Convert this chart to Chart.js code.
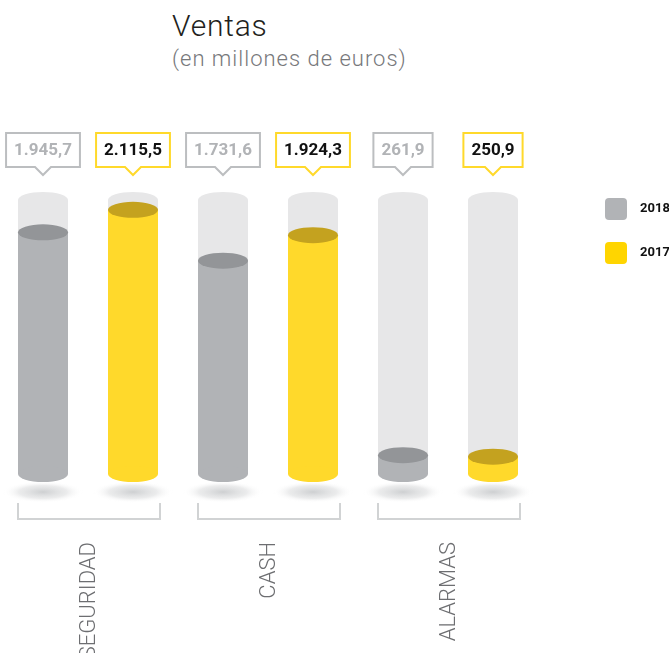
<!DOCTYPE html>
<html>
<head>
<meta charset="utf-8">
<script src="https://cdn.jsdelivr.net/npm/chart.js@4/dist/chart.umd.min.js"></script>
<style>
  html, body { margin: 0; padding: 0; background: #fff; overflow: hidden; }
  body { width: 669px; height: 653px; position: relative; font-family: Roboto, sans-serif; }
  #title { position: absolute; left: 172px; top: 8px; font-size: 30px; font-weight: 300; color: #231f20; letter-spacing: 0.8px; }
  #sub { position: absolute; left: 172px; top: 46px; font-size: 22px; font-weight: 300; color: #77787b; letter-spacing: 1px; }
  #wrap { position: absolute; left: -2px; top: 0; width: 671px; height: 653px; }
</style>
</head>
<body>
<div id="title">Ventas</div>
<div id="sub">(en millones de euros)</div>
<div id="wrap"><canvas id="chart"></canvas></div>
<script>
// datos
var categories = ['SEGURIDAD', 'CASH', 'ALARMAS'];
var seriesNames = ['2018', '2017'];
var ventas2018 = [1945.7, 1731.6, 261.9];
var ventas2017 = [2115.5, 1924.3, 250.9];

// colores por serie: cuerpo, tapa, borde etiqueta, texto etiqueta
var bodyColors = ['#b1b3b6', '#ffd92b'];
var topColors = ['#939598', '#c4a21f'];
var boxColors = ['#bcbec0', '#ffd92b'];
var textColors = ['#b1b3b6', '#111111'];
var legendColors = ['#b1b3b6', '#ffd500'];

function fmt(v) {
  var parts = v.toFixed(1).split('.');
  var ent = parts[0].replace(/\B(?=(\d{3})+(?!\d))/g, '.');
  return ent + ',' + parts[1];
}

var RY = 8;

var cylinders = {
  id: 'cylinders',
  beforeDatasetsDraw: function(chart) {
    var ctx = chart.ctx, area = chart.chartArea;
    ctx.save();
    chart.data.datasets.forEach(function(ds, i) {
      chart.getDatasetMeta(i).data.forEach(function(bar) {
        var half = bar.width / 2;
        var base = area.bottom;
        // sombra
        var sy = base + 18;
        ctx.save();
        ctx.translate(bar.x, sy);
        ctx.scale(1, 0.27);
        var g = ctx.createRadialGradient(0, 0, 0, 0, 0, 40);
        g.addColorStop(0, 'rgba(200,202,204,0.9)');
        g.addColorStop(0.6, 'rgba(222,223,224,0.6)');
        g.addColorStop(1, 'rgba(255,255,255,0)');
        ctx.fillStyle = g;
        ctx.beginPath(); ctx.arc(0, 0, 40, 0, Math.PI * 2); ctx.fill();
        ctx.restore();
        // tubo de fondo
        ctx.fillStyle = '#e7e7e8';
        ctx.fillRect(bar.x - half, area.top, bar.width, base - area.top);
        ctx.beginPath(); ctx.ellipse(bar.x, area.top, half, RY, 0, 0, Math.PI * 2); ctx.fill();
      });
    });
    ctx.restore();
  },
  afterDatasetsDraw: function(chart) {
    var ctx = chart.ctx, area = chart.chartArea;
    ctx.save();
    chart.data.datasets.forEach(function(ds, i) {
      chart.getDatasetMeta(i).data.forEach(function(bar, j) {
        var half = bar.width / 2;
        ctx.fillStyle = bodyColors[i];
        ctx.beginPath(); ctx.ellipse(bar.x, area.bottom, half, RY, 0, 0, Math.PI * 2); ctx.fill();
        ctx.fillStyle = topColors[i];
        ctx.beginPath(); ctx.ellipse(bar.x, bar.y, half, RY, 0, 0, Math.PI * 2); ctx.fill();

        // etiqueta tipo bocadillo
        var txt = fmt(ds.data[j]);
        ctx.font = 'bold 17px Roboto, sans-serif';
        var w = ctx.measureText(txt).width + 16;
        var top = 133, bot = 167, cx = bar.x;
        var l = cx - w / 2, r = cx + w / 2;
        ctx.beginPath();
        ctx.moveTo(l, top); ctx.lineTo(r, top); ctx.lineTo(r, bot);
        ctx.lineTo(cx + 8, bot); ctx.lineTo(cx, bot + 8); ctx.lineTo(cx - 8, bot);
        ctx.lineTo(l, bot); ctx.closePath();
        ctx.fillStyle = '#fff'; ctx.fill();
        ctx.lineWidth = 2; ctx.strokeStyle = boxColors[i]; ctx.stroke();
        ctx.fillStyle = textColors[i];
        ctx.textAlign = 'center'; ctx.textBaseline = 'middle';
        ctx.fillText(txt, cx, (top + bot) / 2 + 1);
      });
    });

    // corchetes y categorías
    var xs = chart.scales.x;
    var m0 = chart.getDatasetMeta(0).data, m1 = chart.getDatasetMeta(1).data;
    ctx.strokeStyle = '#d1d3d4'; ctx.lineWidth = 2;
    categories.forEach(function(cat, k) {
      var l = m0[k].x - m0[k].width / 2, r = m1[k].x + m1[k].width / 2 + 2;
      ctx.beginPath();
      ctx.moveTo(l, 503); ctx.lineTo(l, 519); ctx.lineTo(r, 519); ctx.lineTo(r, 503);
      ctx.stroke();
      ctx.save();
      ctx.translate(xs.getPixelForValue(k), 542);
      ctx.rotate(-Math.PI / 2);
      ctx.font = '300 22px Roboto, sans-serif';
      ctx.fillStyle = '#6d6e71';
      ctx.textAlign = 'right'; ctx.textBaseline = 'middle';
      ctx.fillText(cat, 0, 1);
      ctx.restore();
    });

    // leyenda
    seriesNames.forEach(function(name, i) {
      var y = 198 + i * 44;
      ctx.fillStyle = legendColors[i];
      ctx.beginPath(); ctx.roundRect(607, y, 22, 22, 4); ctx.fill();
      ctx.fillStyle = '#111';
      ctx.font = 'bold 13px Roboto, sans-serif';
      ctx.textAlign = 'left'; ctx.textBaseline = 'middle';
      ctx.fillText(name, 642, y + 11);
    });
    ctx.restore();
  }
};

new Chart(document.getElementById('chart'), {
  type: 'bar',
  data: {
    labels: categories,
    datasets: [
      { label: seriesNames[0], data: ventas2018, backgroundColor: bodyColors[0] },
      { label: seriesNames[1], data: ventas2017, backgroundColor: bodyColors[1] }
    ]
  },
  options: {
    responsive: true,
    maintainAspectRatio: false,
    animation: false,
    layout: { padding: { top: 200, bottom: 179, left: 0, right: 131 } },
    datasets: { bar: { categoryPercentage: 1, barPercentage: 50 / 90, borderWidth: 0 } },
    plugins: { legend: { display: false }, tooltip: { enabled: false } },
    scales: {
      x: { display: false, grid: { display: false } },
      y: { display: false, min: 120, max: 2190, grid: { display: false } }
    }
  },
  plugins: [cylinders]
});
</script>
</body>
</html>
